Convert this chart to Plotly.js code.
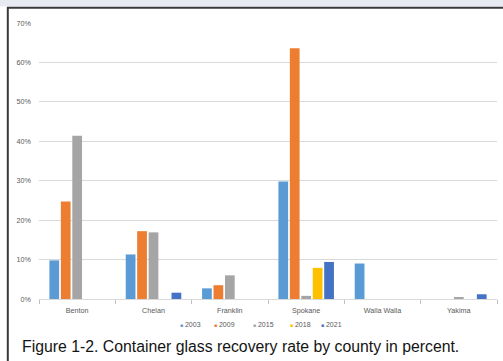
<!DOCTYPE html>
<html>
<head>
<meta charset="utf-8">
<script src="https://cdn.plot.ly/plotly-3.0.1.min.js"></script>
<style>
  html, body { margin: 0; padding: 0; background: #ffffff; }
  #chart { width: 503px; height: 361px; }
</style>
</head>
<body>
<div id="chart"></div>
<script>
// Container glass recovery rate (%) by county
const counties = ['Benton', 'Chelan', 'Franklin', 'Spokane', 'Walla Walla', 'Yakima'];
const years = ['2003', '2009', '2015', '2018', '2021'];
const colors = ['#5B9BD5', '#ED7D31', '#A5A5A5', '#FFC000', '#4472C4'];

const rate2003 = [9.8, 11.3, 2.7, 29.8, 9.0, null];
const rate2009 = [24.7, 17.2, 3.5, 63.6, null, null];
const rate2015 = [41.4, 16.9, 6.0, 0.8, null, 0.5];
const rate2018 = [null, null, null, 7.9, null, null];
const rate2021 = [null, 1.6, null, 9.4, null, 1.2];

const series = [rate2003, rate2009, rate2015, rate2018, rate2021];

// Plot area in pixels
const W = 503, H = 361;
const M = { l: 39, r: 6, t: 23, b: 62 };
const pw = W - M.l - M.r, ph = H - M.t - M.b;
const px = x => (x - M.l) / pw;
const py = y => (H - M.b - y) / ph;

const traces = series.map((vals, i) => ({
  type: 'bar',
  name: years[i],
  x: counties,
  y: vals,
  marker: { color: colors[i] },
  showlegend: false,
  hoverinfo: 'x+y+name'
}));

// Compact legend row under the axis
const legendX = [190, 224, 263, 300, 331];
const annotations = years.map((yr, i) => ({
  xref: 'paper', yref: 'paper',
  x: px(legendX[i]), y: py(324),
  xanchor: 'center', yanchor: 'middle',
  showarrow: false,
  text: '<span style="color:' + colors[i] + ';font-size:5px">■</span> ' + yr,
  font: { family: 'Liberation Sans, Arial, sans-serif', size: 7, color: '#595959' }
}));

annotations.push({
  xref: 'paper', yref: 'paper',
  x: px(20), y: py(346),
  xanchor: 'left', yanchor: 'middle',
  showarrow: false,
  text: 'Figure 1-2. Container glass recovery rate by county in percent.',
  font: { family: 'Liberation Sans, Arial, sans-serif', size: 15.8, color: '#141414' }
});

const layout = {
  width: W, height: H,
  margin: M,
  paper_bgcolor: '#ffffff',
  plot_bgcolor: '#ffffff',
  barmode: 'group',
  bargap: 0.25,
  bargroupgap: 0.15,
  font: { family: 'Liberation Sans, Arial, sans-serif', size: 7, color: '#595959' },
  xaxis: {
    type: 'category',
    tickson: 'boundaries',
    ticks: 'outside',
    ticklen: 4,
    tickcolor: '#bfbfbf',
    showline: true,
    linecolor: '#d9d9d9',
    linewidth: 1,
    showgrid: false,
    ticklabelstandoff: 4,
    tickfont: { size: 7.2, color: '#595959' }
  },
  yaxis: {
    range: [0, 70],
    dtick: 10,
    ticksuffix: '%',
    showgrid: true,
    gridcolor: '#d9d9d9',
    gridwidth: 1,
    zeroline: false,
    showline: false,
    ticks: '',
    ticklabelstandoff: 7,
    tickfont: { size: 7.2, color: '#595959' }
  },
  annotations: annotations,
  shapes: [
    // light strip across the very top
    { type: 'rect', xref: 'paper', yref: 'paper', layer: 'below',
      x0: px(0), x1: px(W), y0: py(6.5), y1: py(0),
      fillcolor: '#e7ebf1', line: { width: 0 } },
    // frame lines, top and left
    { type: 'line', xref: 'paper', yref: 'paper',
      x0: px(7), x1: px(W), y0: py(7.8), y1: py(7.8),
      line: { color: '#3a3a3a', width: 2 } },
    { type: 'line', xref: 'paper', yref: 'paper',
      x0: px(7.8), x1: px(7.8), y0: py(7), y1: py(H),
      line: { color: '#3a3a3a', width: 2 } }
  ]
};

Plotly.newPlot('chart', traces, layout, { staticPlot: true, displayModeBar: false });
</script>
</body>
</html>
